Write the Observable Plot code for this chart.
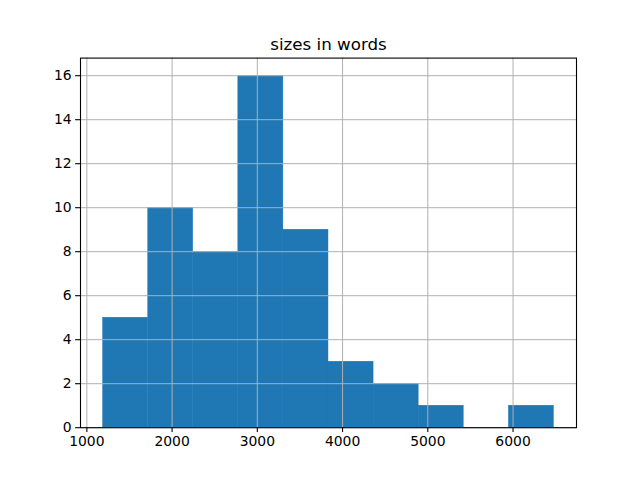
<!DOCTYPE html>
<html><head><meta charset="utf-8">
<script src="https://cdn.jsdelivr.net/npm/d3@7"></script>
<script src="https://cdn.jsdelivr.net/npm/@observablehq/plot@0.6"></script>
<style>body{margin:0;background:#fff}</style>
</head><body><div id="chart"></div>
<script>
const title = "sizes in words";
const binEdges = [1190, 1719, 2248, 2777, 3306, 3835, 4364, 4893, 5422, 5951, 6480];
const counts = [5, 10, 8, 16, 9, 3, 2, 1, 0, 1];
const xTicks = [1000, 2000, 3000, 4000, 5000, 6000];
const yTicks = [0, 2, 4, 6, 8, 10, 12, 14, 16];

const bins = counts.map((c, i) => ({x1: binEdges[i], x2: binEdges[i + 1], y: c}));
const lo = binEdges[0], hi = binEdges[binEdges.length - 1], r = hi - lo;
const ymax = d3.max(counts) * 1.05;

const chart = Plot.plot({
  width: 640, height: 480,
  marginLeft: 80, marginRight: 64, marginTop: 57.6, marginBottom: 52.8,
  style: {fontFamily: "DejaVu Sans", fontSize: "13.9px", color: "#000", background: "#fff"},
  x: {domain: [lo - 0.05 * r, hi + 0.05 * r], ticks: xTicks, tickFormat: d => String(d), label: null},
  y: {domain: [0, ymax], ticks: yTicks, label: null},
  marks: [
    Plot.rectY(bins.filter(d => d.y > 0), {x1: "x1", x2: "x2", y: "y", fill: "#1f77b4", stroke: "#1f77b4", strokeWidth: 0.4, inset: 0}),
    Plot.gridX(xTicks, {stroke: "#b0b0b0", strokeOpacity: 1, strokeWidth: 1}),
    Plot.gridY(yTicks, {stroke: "#b0b0b0", strokeOpacity: 1, strokeWidth: 1}),
    Plot.frame({stroke: "#000", strokeWidth: 1.1}),
    Plot.axisX(xTicks, {tickSize: 4.9, tickPadding: 4, tickFormat: d => String(d), label: null, stroke: "#000", strokeWidth: 1.1, fontSize: 13.9}),
    Plot.axisY(yTicks, {tickSize: 4.9, tickPadding: 4, label: null, stroke: "#000", strokeWidth: 1.1, fontSize: 13.9}),
    Plot.text([title], {frameAnchor: "top", dy: -8.3, lineAnchor: "bottom", fontSize: 16.7, fill: "#000"})
  ]
});
document.getElementById("chart").appendChild(chart);
</script>
</body></html>
